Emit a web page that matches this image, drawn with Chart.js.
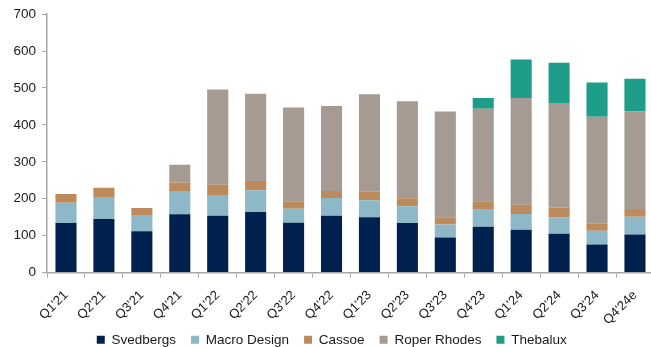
<!DOCTYPE html>
<html>
<head>
<meta charset="utf-8">
<script src="https://cdn.jsdelivr.net/npm/chart.js@4"></script>
<style>
    html, body { margin: 0; padding: 0; background: #fff; overflow: hidden; }
    #wrap { width: 656px; height: 347px; }
</style>
</head>
<body>
<div id="wrap"><canvas id="brandChart" width="656" height="347"></canvas></div>
<script>
// 季度
const quarters = ["Q1'21", "Q2'21", "Q3'21", "Q4'21", "Q1'22", "Q2'22", "Q3'22", "Q4'22",
    "Q1'23", "Q2'23", "Q3'23", "Q4'23", "Q1'24", "Q2'24", "Q3'24", "Q4'24e"];

// 各品牌数值
const svedbergs = [134, 145, 112, 158, 154, 164, 135, 154, 150, 134, 95, 124, 116, 105, 76, 103];
const macroDesign = [55, 58, 42, 61, 56, 59, 38, 48, 46, 46, 35, 46, 43, 45, 37, 48];
const cassoe = [24, 27, 21, 25, 28, 25, 19, 19, 23, 21, 20, 23, 25, 26, 19, 21];
const roperRhodes = [0, 0, 0, 48, 258, 236, 255, 230, 264, 263, 286, 251, 289, 283, 290, 265];
const thebalux = [0, 0, 0, 0, 0, 0, 0, 0, 0, 0, 0, 29, 104, 109, 93, 88];

// y 轴刻度
const yTicks = [0, 100, 200, 300, 400, 500, 600, 700];

const axisColor = '#a6a6a6';
const textColor = '#1a1a1a';
const fontFamily = "'Liberation Sans', Arial, sans-serif";

function makeDataset(label, data, color) {
    return {
        label,
        data,
        backgroundColor: color,
        borderWidth: 0,
        categoryPercentage: 1,
        barPercentage: 0.556
    };
}

// x 轴标签会被裁到轴的高度里, 布局之后把轴的下边放开
const unclipXLabels = {
    id: 'unclipXLabels',
    afterLayout(chart) {
        chart.scales.x.bottom = chart.height;
    }
};

const ctx = document.getElementById('brandChart');

new Chart(ctx, {
    type: 'bar',
    data: {
        labels: quarters,
        datasets: [
            makeDataset('Svedbergs', svedbergs, '#00214d'),
            makeDataset('Macro Design', macroDesign, '#8cb8c7'),
            makeDataset('Cassoe', cassoe, '#bd8a5c'),
            makeDataset('Roper Rhodes', roperRhodes, '#a59b92'),
            makeDataset('Thebalux', thebalux, '#1e9e88')
        ]
    },
    options: {
        responsive: false,
        animation: false,
        layout: {
            // 图例往下挪一点, 跟原图一致
            padding: { left: 7.5, top: 9, right: 0, bottom: -9.6 }
        },
        scales: {
            x: {
                stacked: true,
                grid: {
                    drawOnChartArea: false,
                    color: axisColor,
                    tickLength: 5
                },
                border: { color: axisColor, width: 1.5 },
                ticks: {
                    color: textColor,
                    font: { family: fontFamily, size: 13 },
                    minRotation: 45,
                    maxRotation: 45,
                    padding: 10,
                    autoSkip: false
                },
                // 旋转标签实际占的高度比 Chart.js 估算的小
                afterFit: (scale) => {
                    scale.height = 45.5;
                }
            },
            y: {
                stacked: true,
                min: yTicks[0],
                max: yTicks[yTicks.length - 1],
                afterBuildTicks: (axis) => {
                    axis.ticks = yTicks.map(v => ({ value: v }));
                },
                grid: {
                    drawOnChartArea: false,
                    color: axisColor,
                    tickLength: 5
                },
                border: { color: axisColor, width: 1.5 },
                ticks: {
                    color: textColor,
                    font: { family: fontFamily, size: 13.5 },
                    padding: 6
                }
            }
        },
        plugins: {
            legend: {
                position: 'bottom',
                labels: {
                    color: textColor,
                    font: { family: fontFamily, size: 13.5 },
                    boxWidth: 8,
                    boxHeight: 8,
                    padding: 15
                }
            },
            tooltip: { enabled: false }
        }
    },
    plugins: [unclipXLabels]
});
</script>
</body>
</html>
